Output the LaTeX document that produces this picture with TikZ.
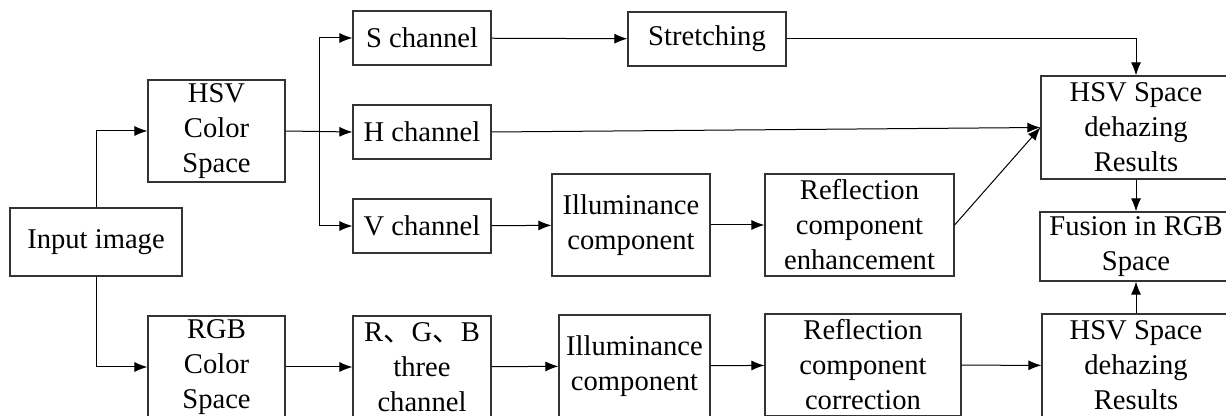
\documentclass[tikz,border=0pt]{standalone}
\usepackage{fontspec}
\setmainfont{Liberation Serif}
\newfontfamily\cjk{Noto Sans CJK SC}
\usetikzlibrary{arrows.meta}
\tikzset{
  blk/.style={draw=black!80, line width=0.6pt, rectangle, inner sep=0pt, align=center,
    font=\fontsize{14.3}{17.5}\selectfont},
}
\begin{document}
\begin{tikzpicture}[x=0.5pt, y=-0.5pt, >={Latex[length=6.5pt,width=5pt]}, line width=0.5pt]
			\useasboundingbox (0,0) rectangle (1226,416);
			\clip (0,0) rectangle (1226,416);
			% left part
			\node	(in) at (96,242) [blk, minimum width=86pt, minimum height=34pt] {Input image};
			\node	(hsv) at (216.5,131) [blk, minimum width=68.5pt, minimum height=51pt] {HSV\\Color\\Space};
			\node	(rgb) at (216.5,367) [blk, minimum width=68.5pt, minimum height=51pt] {RGB\\Color\\Space};
			% channels
			\node	(s) at (422,38) [blk, minimum width=69pt, minimum height=27pt] {S channel};
			\node	(h) at (422,132) [blk, minimum width=69pt, minimum height=27pt] {H channel};
			\node	(v) at (422,226) [blk, minimum width=69pt, minimum height=27pt] {V channel};
			\node	(rgbc) at (422,367) [blk, minimum width=69pt, minimum height=51pt] {R{\cjk 、}G{\cjk 、}B\\three\\channel};
			% processing
			\node	(str) at (707,39) [blk, minimum width=79pt, minimum height=27pt] {Stretching};
			\node	(ila) at (631,225) [blk, minimum width=79pt, minimum height=51pt] {Illuminance\\component};
			\node	(ilb) at (634.5,366) [blk, minimum width=75.5pt, minimum height=51pt] {Illuminance\\component};
			\node	(rea) at (859.5,225) [blk, minimum width=94.5pt, minimum height=51pt] {Reflection\\component\\enhancement};
			\node	(reb) at (863,365) [blk, minimum width=98pt, minimum height=51pt] {Reflection\\component\\correction};
			% results
			\node	(resa) at (1136,127.5) [blk, minimum width=95pt, minimum height=51.5pt] {HSV Space\\dehazing\\Results};
			\node	(fus) at (1136,246.5) [blk, minimum width=96pt, minimum height=34.5pt] {Fusion in RGB\\Space};
			\node	(resb) at (1136,365.5) [blk, minimum width=94pt, minimum height=51.5pt] {HSV Space\\dehazing\\Results};
			\coordinate (br) at (319.5,131);
			\draw 
			(in.north) edge[->, to path={|- (\tikztotarget)}] (hsv.west)
			(in.south) edge[->, to path={|- (\tikztotarget)}] (rgb.west)
			(hsv.east) edge[->] (h.west)
			(br) edge[->, to path={|- (\tikztotarget)}] (s.west)
			(br) edge[->, to path={|- (\tikztotarget)}] (v.west)
			(s) edge[->] (str)
			(str.east) edge[->, to path={-| (\tikztotarget)}] (resa.north)
			(h.east) edge[->] (resa.west)
			(v) edge[->] (ila)
			(ila) edge[->] (rea)
			(rea.east) edge[->] (resa.west)
			(resa) edge[->] (fus)
			(rgb) edge[->] (rgbc)
			(rgbc) edge[->] (ilb)
			(ilb) edge[->] (reb)
			(reb) edge[->] (resb)
			(resb) edge[->] (fus)
			;
\end{tikzpicture}
\end{document}
